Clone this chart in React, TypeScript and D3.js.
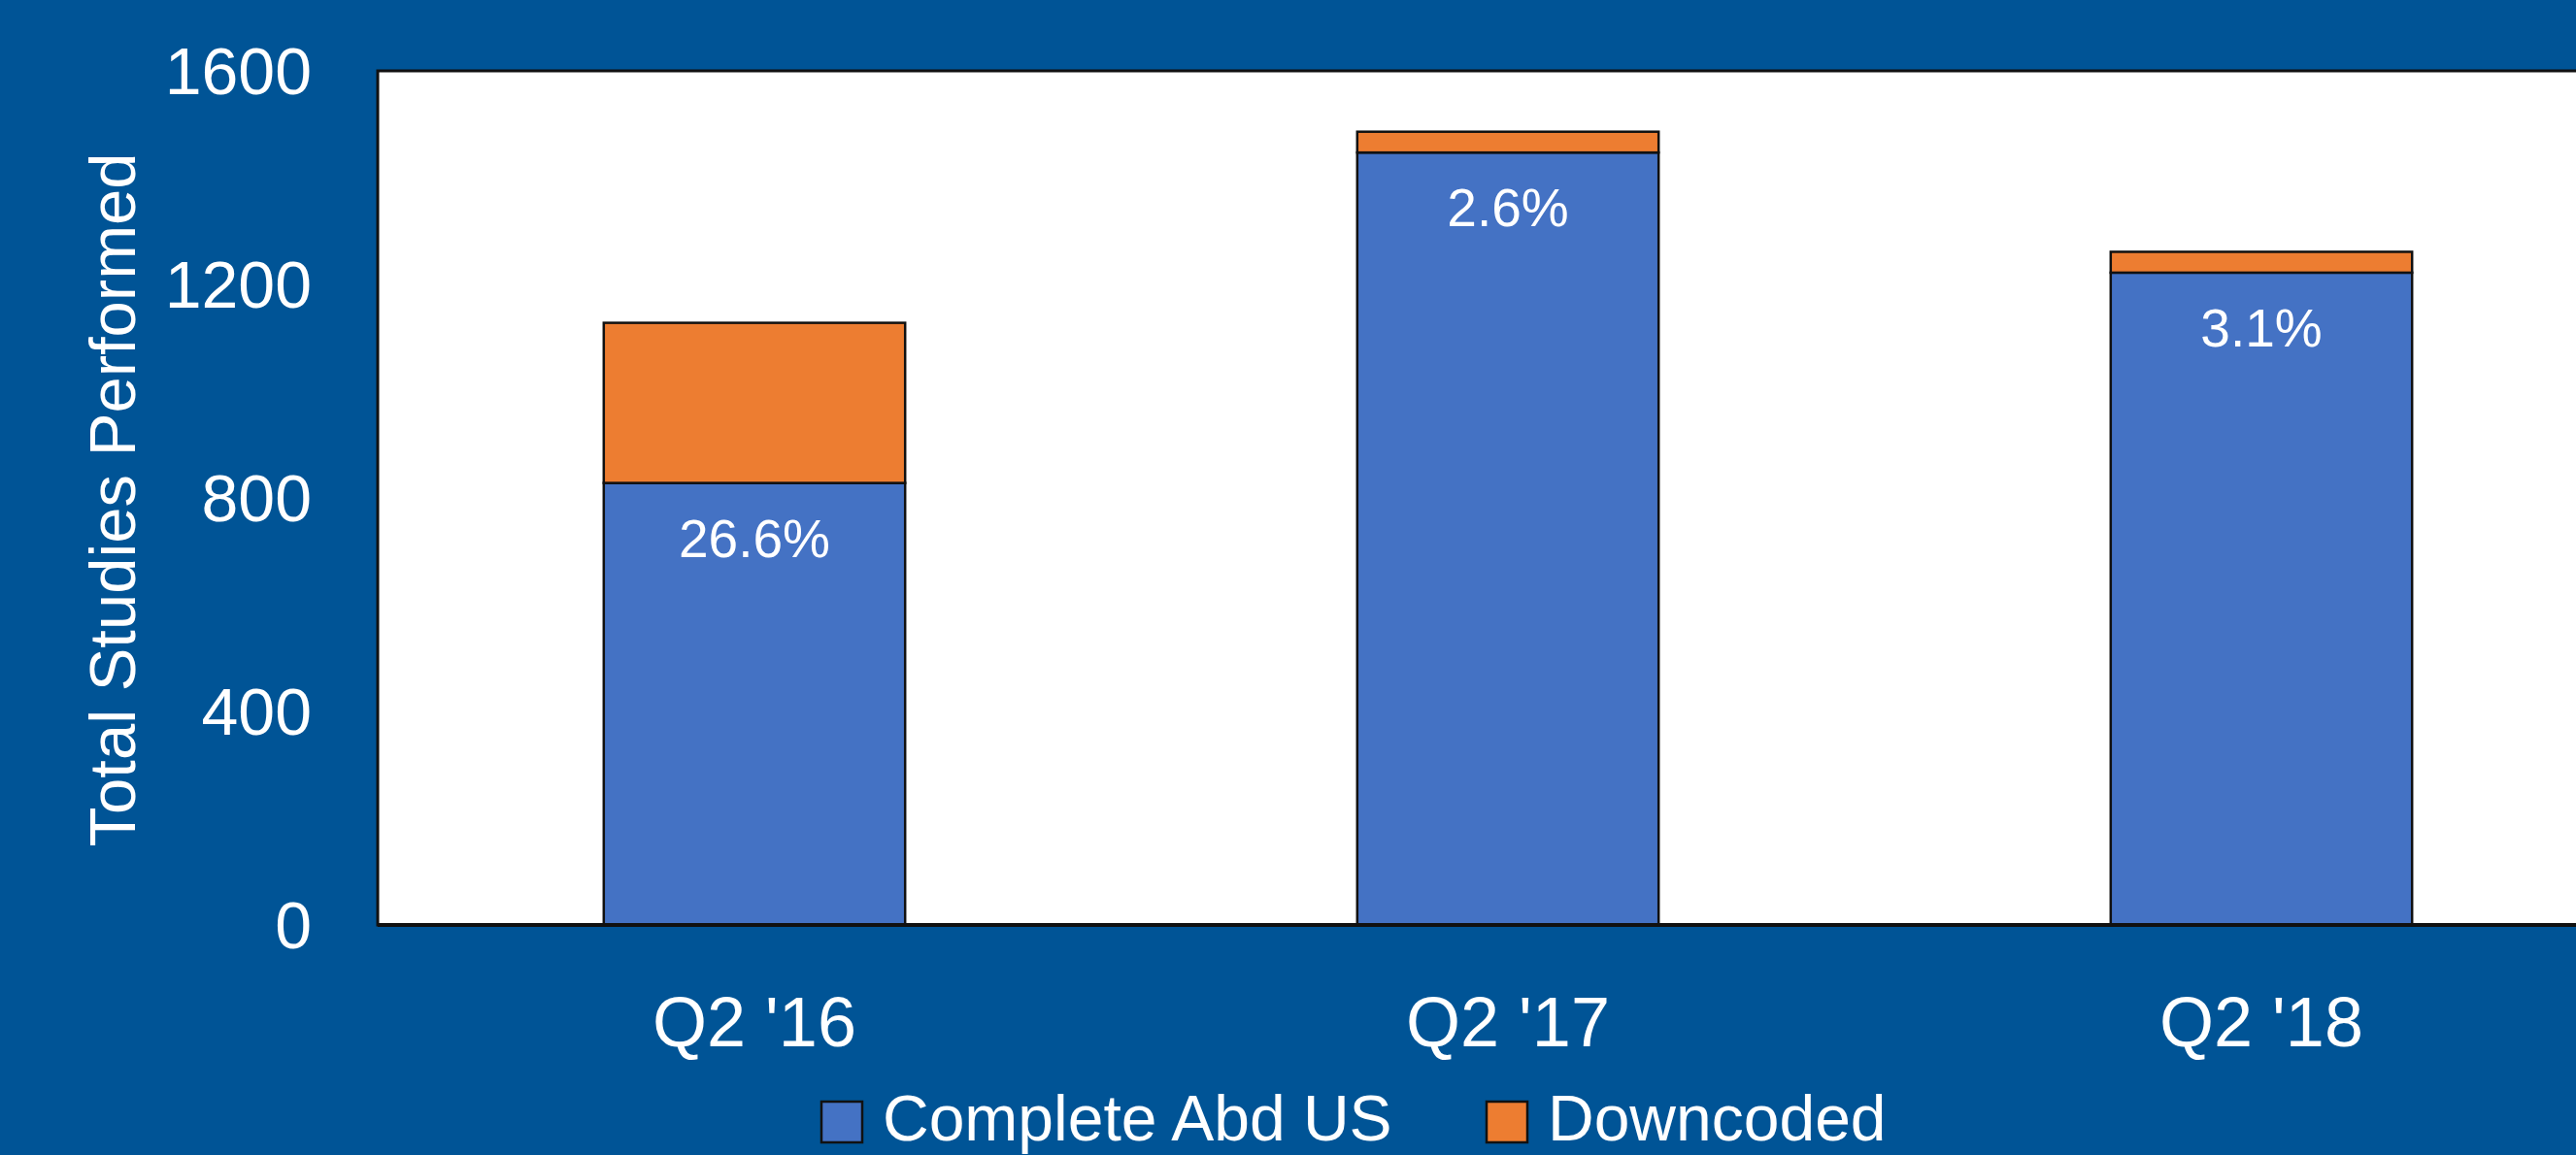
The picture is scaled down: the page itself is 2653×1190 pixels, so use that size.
import { useEffect, useRef } from "react";
import * as d3 from "d3";

const quarters = ["Q2 '16", "Q2 '17", "Q2 '18"];
const completeAbd = [828, 1447, 1222];
const downcoded = [300, 39, 39];
const pctLabels = ["26.6%", "2.6%", "3.1%"];
const yTicks = [0, 400, 800, 1200, 1600];
const seriesNames = ["Complete Abd US", "Downcoded"];

const BG = "#005496";
const BLUE = "#4472C4";
const ORANGE = "#ED7D31";
const FONT = "'Liberation Sans', Arial, sans-serif";

const StackedChart = () => {
  const svgRef = useRef<SVGSVGElement | null>(null);

  useEffect(() => {
    const svg = d3.select(svgRef.current);
    svg.selectAll("*").remove();

    const width = 2653;
    const height = 1190;
    const left = 389;
    const top = 73;
    const bottom = 953;
    // plot area runs past the right edge of the picture
    const right = 2717;

    svg.attr("width", width).attr("height", height);
    svg.append("rect").attr("width", width).attr("height", height).attr("fill", BG);

    const x = d3.scaleBand<string>().domain(quarters).range([left, right]).paddingInner(0.6).paddingOuter(0.3);
    const y = d3.scaleLinear().domain([0, 1600]).range([bottom, top]);

    svg
      .append("rect")
      .attr("x", left)
      .attr("y", top)
      .attr("width", right - left)
      .attr("height", bottom - top)
      .attr("fill", "white")
      .attr("stroke", "#111")
      .attr("stroke-width", 3);

    const rows = quarters.map((q, i) => ({ q, a: completeAbd[i], d: downcoded[i], label: pctLabels[i] }));

    // blue segment
    svg
      .selectAll("rect.abd")
      .data(rows)
      .enter()
      .append("rect")
      .attr("class", "abd")
      .attr("x", (d) => x(d.q)!)
      .attr("y", (d) => y(d.a))
      .attr("width", x.bandwidth())
      .attr("height", (d) => y(0) - y(d.a))
      .attr("fill", BLUE)
      .attr("stroke", "#111")
      .attr("stroke-width", 2.5);

    // orange segment
    svg
      .selectAll("rect.down")
      .data(rows)
      .enter()
      .append("rect")
      .attr("class", "down")
      .attr("x", (d) => x(d.q)!)
      .attr("y", (d) => y(d.a + d.d))
      .attr("width", x.bandwidth())
      .attr("height", (d) => y(d.a) - y(d.a + d.d))
      .attr("fill", ORANGE)
      .attr("stroke", "#111")
      .attr("stroke-width", 2.5);

    svg
      .selectAll("text.pct")
      .data(rows)
      .enter()
      .append("text")
      .attr("class", "pct")
      .attr("x", (d) => x(d.q)! + x.bandwidth() / 2)
      .attr("y", (d) => y(d.a) + 76)
      .attr("text-anchor", "middle")
      .style("font-family", FONT)
      .style("font-size", "55px")
      .style("fill", "white")
      .text((d) => d.label);

    // x axis baseline
    svg
      .append("line")
      .attr("x1", left)
      .attr("x2", right)
      .attr("y1", bottom)
      .attr("y2", bottom)
      .attr("stroke", "#111")
      .attr("stroke-width", 4);

    svg
      .selectAll("text.ytick")
      .data(yTicks)
      .enter()
      .append("text")
      .attr("class", "ytick")
      .attr("x", 321)
      .attr("y", (d) => y(d))
      .attr("dy", "0.36em")
      .attr("text-anchor", "end")
      .style("font-family", FONT)
      .style("font-size", "68px")
      .style("fill", "white")
      .text((d) => String(d));

    svg
      .selectAll("text.xtick")
      .data(quarters)
      .enter()
      .append("text")
      .attr("class", "xtick")
      .attr("x", (d) => x(d)! + x.bandwidth() / 2)
      .attr("y", 1078)
      .attr("text-anchor", "middle")
      .style("font-family", FONT)
      .style("font-size", "72px")
      .style("fill", "white")
      .text((d) => d);

    svg
      .append("text")
      .attr("transform", `translate(139,${(top + bottom) / 2 + 2}) rotate(-90)`)
      .attr("text-anchor", "middle")
      .style("font-family", FONT)
      .style("font-size", "67px")
      .style("fill", "white")
      .text("Total Studies Performed");

    // legend (kept just inside the bottom edge)
    const legendX = [846, 1531];
    const colors = [BLUE, ORANGE];
    seriesNames.forEach((name, i) => {
      svg
        .append("rect")
        .attr("x", legendX[i])
        .attr("y", 1135)
        .attr("width", 42)
        .attr("height", 42)
        .attr("fill", colors[i])
        .attr("stroke", "#111")
        .attr("stroke-width", 2.5);
      svg
        .append("text")
        .attr("x", legendX[i] + 63)
        .attr("y", 1175)
        .style("font-family", FONT)
        .style("font-size", "66px")
        .style("fill", "white")
        .text(name);
    });
  }, []);

  return <svg ref={svgRef} style={{ position: "fixed", left: 0, top: 0, display: "block" }} />;
};

export default function App() {
  return <StackedChart />;
}
